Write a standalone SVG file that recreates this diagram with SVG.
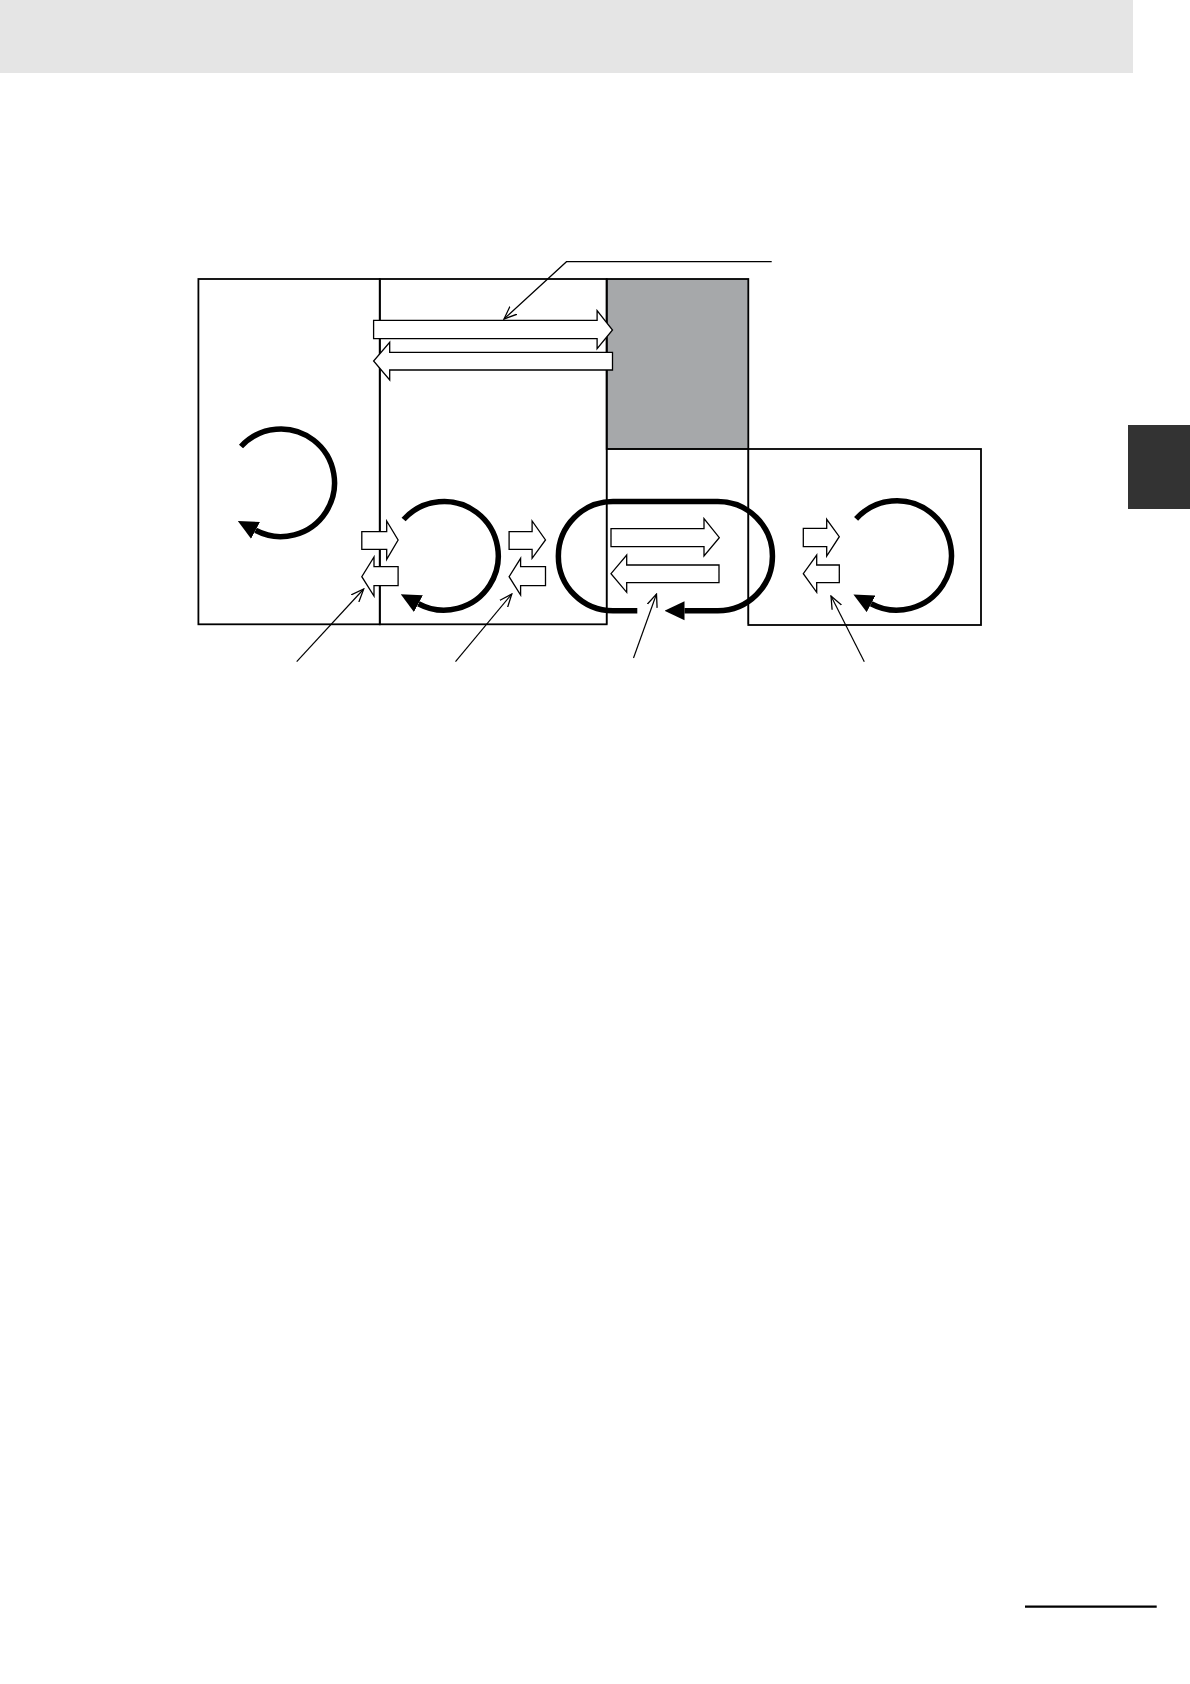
<svg xmlns="http://www.w3.org/2000/svg" width="1190" height="1684" viewBox="0 0 1190 1684">
<style>
.box{fill:none;stroke:#000;stroke-width:1.8}
.thin{fill:none;stroke:#000;stroke-width:1.2}
.blk{fill:#fff;stroke:#000;stroke-width:1.3;stroke-linejoin:miter}
.loop{fill:none;stroke:#000;stroke-width:5.5;marker-end:url(#head)}
.lead{fill:none;stroke:#000;stroke-width:1.2;marker-end:url(#open)}
</style>
<defs>
<marker id="head" markerUnits="userSpaceOnUse" markerWidth="20" markerHeight="20" refX="0" refY="8.5" orient="auto" viewBox="0 0 18 17">
<path d="M0,0 L18,8.5 L0,17 z" fill="#000"/>
</marker>
<marker id="open" markerUnits="userSpaceOnUse" markerWidth="14" markerHeight="12" refX="11" refY="4.5" orient="auto" viewBox="0 0 12 9">
<path d="M0,0 L11,4.5 L0,9" fill="none" stroke="#000" stroke-width="1.1"/>
</marker>
</defs>
<rect x="0" y="0" width="1133" height="73" fill="#e5e5e5"/>
<rect x="1128" y="425" width="62" height="84" fill="#333"/>
<line x1="1025" y1="1606.7" x2="1156.7" y2="1606.7" stroke="#000" stroke-width="2.3"/>

<g id="gray-area"><rect x="606.7" y="279" width="141.6" height="170" fill="#a6a8aa" stroke="#000" stroke-width="1.8"/></g>
<g id="box1"><rect class="box" x="198.4" y="279" width="181.4" height="345.3"/></g>
<g id="box2"><rect class="box" x="379.8" y="279" width="226.9" height="345.3"/></g>
<g id="box3"><path class="thin" d="M606.7,449 V624.3 M748.3,449 V624.3 M606.7,449 H748.3"/></g>
<g id="box4"><rect class="box" x="748.3" y="449" width="232.7" height="176"/></g>

<g id="flows">
<path class="blk" d="M373.6,320.3 H597.1 V310.7 L612.5,330 L597.1,348.7 V338.7 H373.6 Z"/>
<path class="blk" d="M612.5,352.3 H389.7 V342.3 L373.6,361 L389.7,380 V370 H612.5 Z"/>

<path class="blk" d="M361.8,531.7 H386.7 V521 L398.1,540 L386.7,559.3 V549.3 H361.8 Z"/>
<path class="blk" d="M398.1,566.7 H374 V557 L361.8,576.7 L374,596 V585.7 H398.1 Z"/>
<path class="blk" d="M509.1,531.7 H532.1 V521 L545.5,540 L532.1,558.3 V549.3 H509.1 Z"/>
<path class="blk" d="M545.5,566.7 H520.6 V558.3 L509.1,576.7 L520.6,595 V585.7 H545.5 Z"/>
<path class="blk" d="M611,528.7 H704 V518.7 L719.3,537.7 L704,556 V546.7 H611 Z"/>
<path class="blk" d="M719,565 H626.7 V555 L611,573.7 L626.7,592.3 V582.7 H719 Z"/>
<path class="blk" d="M803.3,528.3 H826.7 V519.3 L839.3,536.7 L826.7,556 V546.7 H803.3 Z"/>
<path class="blk" d="M839.3,565 H816.7 V555 L803.3,573.7 L816.7,592.3 V582.7 H839.3 Z"/>

<path class="loop" d="M241,446.5 A53.8,53.8 0 1 1 255.5,530.3"/>
<path class="loop" d="M403.6,519.5 A54.3,54.3 0 1 1 418.4,603.7"/>
<path class="loop" d="M856.1,518.9 A54.7,54.7 0 1 1 871.1,603.8"/>
<path class="loop" d="M637.3,610.8 H613 A54.65,54.65 0 0 1 613,501.5 H717.8 A54.65,54.65 0 0 1 717.8,610.8 H684.5"/>
</g>

<g id="connectors">
<path class="lead" d="M771.7,261.7 H566.5 L504,319"/>
<path class="lead" d="M296.7,661.7 L363.7,589"/>
<path class="lead" d="M455.5,661.7 L511.8,594"/>
<path class="lead" d="M633.5,658 L656.5,594"/>
<path class="lead" d="M864.3,661.7 L831,596"/>
</g>
</svg>
